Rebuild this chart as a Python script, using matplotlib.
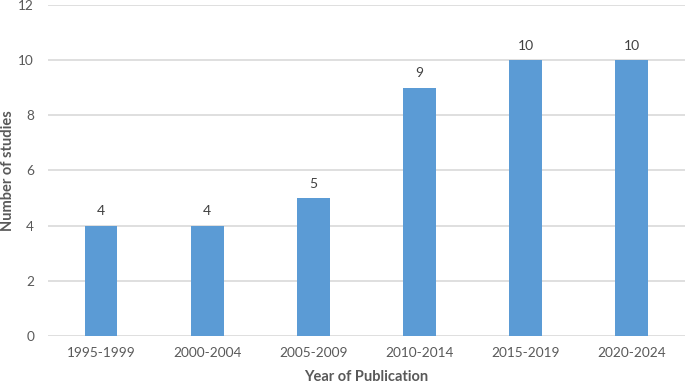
import matplotlib
matplotlib.use("Agg")
import matplotlib.pyplot as plt

categories = ["1995-1999", "2000-2004", "2005-2009", "2010-2014", "2015-2019", "2020-2024"]
counts = [4, 4, 5, 9, 10, 10]
y_ticks = [0, 2, 4, 6, 8, 10, 12]

plt.rcParams['font.family'] = ['Lato', 'DejaVu Sans']

fig = plt.figure(figsize=(6.85, 3.84), dpi=100)
ax = fig.add_axes([0.070, 0.125, 0.930, 0.862])

x = list(range(len(categories)))
bars = ax.bar(x, counts, width=0.31, color="#5B9BD5", zorder=3)
for xi, v in zip(x, counts):
    ax.text(xi, v + 0.3, str(v), ha="center", va="bottom", fontsize=10, color="#404040")

ax.set_xlim(-0.5, len(categories) - 0.5)
ax.set_ylim(0, 12)
ax.set_yticks(y_ticks)
ax.set_xticks(x)
ax.set_xticklabels(categories)
ax.tick_params(axis="both", length=0, labelsize=9.8, colors="#595959", pad=8)
ax.tick_params(axis="y", pad=10)
ax.grid(axis="y", color="#D9D9D9", linewidth=1.2, zorder=0)
for s in ax.spines.values():
    s.set_visible(False)
ax.set_xlabel("Year of Publication", fontsize=10.5, fontweight="bold", color="#595959", labelpad=8)
ax.set_ylabel("Number of studies", fontsize=10.5, fontweight="bold", color="#595959")
ax.yaxis.set_label_coords(-0.052, 0.5)

fig.savefig("out.png", dpi=100)
